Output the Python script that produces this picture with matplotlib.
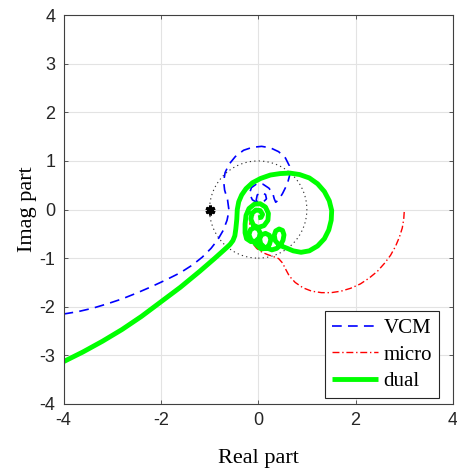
import matplotlib
matplotlib.use('Agg')
import matplotlib.pyplot as plt
from matplotlib.patches import Circle

plt.rcParams['lines.scale_dashes'] = False
plt.rcParams['axes.unicode_minus'] = False

# Nyquist curves (real, imag) for the three controllers
vcm_re = [-4.0, -3.7, -3.4, -3.1, -2.8, -2.5, -2.2, -1.9, -1.6, -1.35, -1.15, -0.97,
          -0.83, -0.72, -0.64, -0.6, -0.63, -0.69, -0.71, -0.68, -0.6, -0.47, -0.3,
          -0.12, 0.07, 0.25, 0.42, 0.56, 0.64, 0.65, 0.6, 0.5, 0.42, 0.36, 0.33, 0.3,
          0.22, 0.1, -0.03, -0.14, -0.18, -0.12, -0.02, 0.1, 0.17, 0.15, 0.06, -0.02,
          -0.04, 0.0, 0.05]
vcm_im = [-2.15, -2.1, -2.03, -1.94, -1.84, -1.72, -1.59, -1.45, -1.3, -1.14, -0.98, -0.8,
          -0.62, -0.43, -0.22, -0.02, 0.2, 0.4, 0.58, 0.76, 0.93, 1.09, 1.22,
          1.28, 1.3, 1.27, 1.19, 1.06, 0.9, 0.72, 0.53, 0.33, 0.2, 0.15, 0.22, 0.33,
          0.44, 0.52, 0.53, 0.45, 0.33, 0.2, 0.14, 0.15, 0.22, 0.31, 0.35, 0.3,
          0.2, 0.1, 0.04]

micro_re = [3.0, 2.99, 2.96, 2.9, 2.82, 2.72, 2.6, 2.45, 2.28, 2.1, 1.9, 1.7, 1.5, 1.3,
            1.1, 0.92, 0.76, 0.64, 0.56, 0.5, 0.42, 0.32, 0.2, 0.08, -0.03, -0.11,
            -0.16, -0.18, -0.17, -0.12, -0.05, 0.0]
micro_im = [-0.05, -0.2, -0.38, -0.57, -0.76, -0.94, -1.1, -1.27, -1.41, -1.53, -1.62,
            -1.68, -1.71, -1.71, -1.68, -1.61, -1.5, -1.37, -1.22, -1.1, -1.01, -0.97,
            -0.93, -0.88, -0.8, -0.7, -0.56, -0.42, -0.28, -0.15, -0.05, 0.0]

dual_re = [-4.0, -3.6, -3.2, -2.8, -2.4, -2.0, -1.6, -1.2, -0.9, -0.7, -0.58, -0.52,
           -0.48, -0.46, -0.44, -0.43, -0.4, -0.34, -0.25, -0.12, 0.05, 0.25, 0.45,
           0.65, 0.85, 1.05, 1.22, 1.36, 1.46, 1.51, 1.5, 1.45, 1.36, 1.22, 1.05, 0.88,
           0.72, 0.6,
           0.5, 0.42, 0.35, 0.33, 0.36, 0.43, 0.5, 0.53, 0.51, 0.46, 0.38, 0.28,
           0.2, 0.12, 0.05, 0.03, 0.07, 0.15, 0.23, 0.26, 0.23, 0.16, 0.06,
           -0.02, -0.08, -0.15, -0.19, -0.16, -0.08, 0.0, 0.04, 0.02, -0.05, -0.15,
           -0.24, -0.27, -0.27, -0.25, -0.19, -0.08, 0.04, 0.15, 0.21, 0.2, 0.12, 0.0,
           -0.1, -0.15, -0.13, -0.05, 0.04, 0.09, 0.06, 0.0]
dual_im = [-3.13, -2.93, -2.71, -2.47, -2.2, -1.9, -1.6, -1.27, -1.01, -0.83, -0.72, -0.64,
           -0.54, -0.4, -0.2, 0.0, 0.16, 0.3, 0.43, 0.55, 0.64, 0.71, 0.74,
           0.75, 0.72, 0.65, 0.53, 0.37, 0.18, -0.02, -0.22, -0.42, -0.6, -0.75, -0.85, -0.88,
           -0.85, -0.8,
           -0.76, -0.72, -0.64, -0.53, -0.44, -0.4, -0.43, -0.52, -0.63, -0.73, -0.8, -0.83,
           -0.8, -0.77, -0.7, -0.6, -0.52, -0.49, -0.53, -0.62, -0.72, -0.8, -0.81,
           -0.74, -0.68, -0.62, -0.52, -0.42, -0.37, -0.4, -0.48, -0.58, -0.65, -0.66,
           -0.6, -0.48, -0.3, -0.12, 0.02, 0.11, 0.12, 0.05, -0.08, -0.22, -0.33, -0.37,
           -0.32, -0.2, -0.08, -0.01, -0.02, -0.1, -0.16, -0.17]

crit_re, crit_im = -1, 0

fig = plt.figure(figsize=(4.57, 4.73), dpi=100)
ax = fig.add_axes([0.139, 0.146, 0.852, 0.822])

ax.plot(vcm_re, vcm_im, color='#0000ff', lw=1.2, ls=(0, (7, 4.5)), label='VCM')
ax.plot(micro_re, micro_im, color='#ff0000', lw=1.0, ls=(0, (5, 2, 1, 2)), label='micro')
ax.plot(dual_re, dual_im, color='#00ff00', lw=3.5, label='dual',
        solid_capstyle='butt', solid_joinstyle='round')

# unit circle and the critical point
ax.add_patch(Circle((0, 0), 1, fill=False, ec='#303030', lw=0.8, ls=(0, (0.9, 2.3))))
ax.plot(crit_re, crit_im, marker=(6, 2, 0), ms=7, mew=2.2, color='k')
ax.plot(crit_re, crit_im, marker='o', ms=4, color='k')

ax.set_xlim(-4, 4)
ax.set_ylim(-4, 4)
ax.set_xticks([-4, -2, 0, 2, 4])
ax.set_yticks(range(-4, 5))
ax.grid(True, color='#e3e3e3', lw=0.8)
ax.set_axisbelow(True)

for s in ax.spines.values():
    s.set_color('#404040')
    s.set_linewidth(0.8)
ax.tick_params(direction='in', length=3, width=0.6, color='#404040',
               top=True, right=True, labelsize=13, labelcolor='#262626', pad=6)
for lab in ax.get_xticklabels() + ax.get_yticklabels():
    lab.set_family('Liberation Sans')

ax.set_xlabel('Real part', family='Liberation Serif', fontsize=16, labelpad=14)
ax.set_ylabel('Imag part', family='Liberation Serif', fontsize=16, labelpad=2)

leg = ax.legend(loc='lower right', bbox_to_anchor=(0.965, 0.015),
                prop={'family': 'Liberation Serif', 'size': 15},
                fancybox=False, framealpha=1, edgecolor='#262626',
                handlelength=2.2, handletextpad=0.25, borderpad=0.35,
                labelspacing=0.32, borderaxespad=0)
leg.get_frame().set_linewidth(0.8)

fig.savefig('out.png', dpi=100)
